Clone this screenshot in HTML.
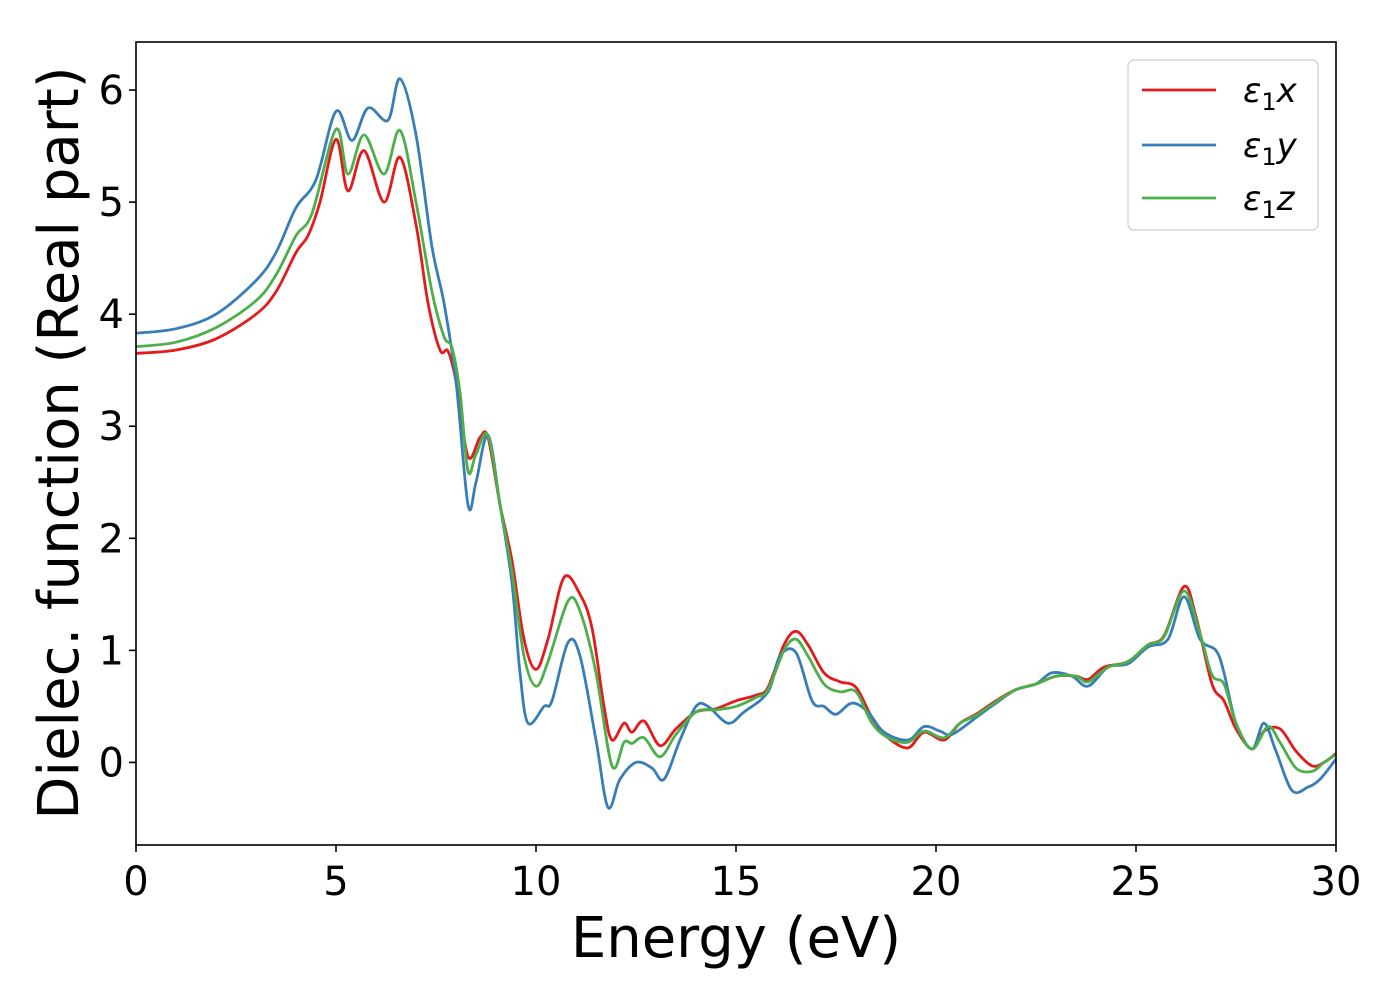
<!DOCTYPE html>
<html><head><meta charset="utf-8"><style>
html,body{margin:0;padding:0;background:#fff;}
svg{display:block;font-family:"DejaVu Sans","Liberation Sans",sans-serif;}
</style></head><body>
<svg id="chart" width="1400" height="1000" viewBox="0 0 1400 1000">
<g id="marks"></g>
<rect x="136" y="42" width="1200" height="803" fill="none" stroke="#000" stroke-width="1.6"/>
<g id="ticks"></g>
<text x="736" y="957" font-size="56" text-anchor="middle">Energy (eV)</text>
<text transform="translate(78,443) rotate(-90)" font-size="56" text-anchor="middle">Dielec. function (Real part)</text>
<g>
<rect x="1128" y="60" width="190" height="170" rx="6" fill="#fff" stroke="#ccc" stroke-width="1.2"/>
<line x1="1142" y1="90" x2="1216" y2="90" stroke="#e41a1c" stroke-width="2.8"/>
<text x="1243" y="102" font-size="34" font-style="italic">ε<tspan font-size="24" font-style="normal" dy="8">1</tspan><tspan dy="-8">x</tspan></text>
<line x1="1142" y1="145" x2="1216" y2="145" stroke="#377eb8" stroke-width="2.8"/>
<text x="1243" y="157" font-size="34" font-style="italic">ε<tspan font-size="24" font-style="normal" dy="8">1</tspan><tspan dy="-8">y</tspan></text>
<line x1="1142" y1="198" x2="1216" y2="198" stroke="#4daf4a" stroke-width="2.8"/>
<text x="1243" y="210" font-size="34" font-style="italic">ε<tspan font-size="24" font-style="normal" dy="8">1</tspan><tspan dy="-8">z</tspan></text>
</g>
</svg>
<script>
const xTicks=[0,5,10,15,20,25,30];
const yTicks=[0,1,2,3,4,5,6];
const xE=[0,1,2,3,3.5,4,4.3,4.6,5.0,5.3,5.7,6.2,6.6,7.0,7.3,7.6,7.8,8.0,8.3,8.6,8.8,9.1,9.4,9.7,10.0,10.3,10.7,11.1,11.4,11.7,11.9,12.2,12.4,12.7,13.1,13.5,14.0,14.5,15.0,15.5,15.8,16.2,16.5,16.8,17.2,17.6,18.0,18.4,18.8,19.3,19.7,20.2,20.6,21.0,21.5,22.0,22.5,23.0,23.5,23.8,24.2,24.8,25.3,25.7,26.2,26.5,26.9,27.2,27.5,27.9,28.2,28.6,29.0,29.4,29.7,30];
const xV=[3.65,3.68,3.78,4.0,4.2,4.55,4.7,5.0,5.56,5.1,5.46,5.0,5.4,4.8,4.1,3.68,3.67,3.4,2.73,2.9,2.9,2.3,1.8,1.1,0.83,1.1,1.65,1.5,1.2,0.5,0.2,0.35,0.27,0.37,0.15,0.3,0.45,0.48,0.55,0.6,0.67,1.05,1.17,1.05,0.8,0.72,0.67,0.4,0.22,0.13,0.27,0.2,0.35,0.43,0.55,0.65,0.7,0.77,0.77,0.74,0.85,0.9,1.05,1.13,1.57,1.3,0.7,0.55,0.3,0.12,0.28,0.3,0.1,-0.03,0.0,0.08];
const yE=[0,1,2,3,3.5,4,4.5,5.0,5.4,5.8,6.3,6.6,7.0,7.4,7.7,8.0,8.3,8.5,8.8,9.1,9.4,9.6,9.8,10.2,10.4,10.8,11.1,11.5,11.8,12.1,12.5,12.9,13.2,13.6,14.0,14.3,14.8,15.2,15.8,16.1,16.5,16.9,17.2,17.5,17.9,18.3,18.7,19.3,19.7,20.1,20.4,21,21.5,22,22.5,22.9,23.4,23.8,24.3,24.8,25.3,25.8,26.2,26.6,27.0,27.2,27.5,27.9,28.2,28.5,28.9,29.3,29.6,30];
const yV=[3.83,3.87,4.0,4.3,4.55,4.95,5.2,5.81,5.55,5.84,5.73,6.1,5.6,4.6,4.1,3.4,2.3,2.5,2.92,2.3,1.6,0.8,0.35,0.5,0.55,1.07,0.95,0.2,-0.4,-0.15,0.0,-0.05,-0.15,0.2,0.5,0.5,0.35,0.45,0.63,0.95,0.98,0.55,0.5,0.43,0.53,0.45,0.27,0.2,0.32,0.28,0.25,0.4,0.53,0.65,0.7,0.8,0.77,0.68,0.85,0.88,1.03,1.1,1.48,1.1,1.0,0.8,0.35,0.12,0.35,0.1,-0.25,-0.22,-0.15,0.03];
const zE=[0,1,2,3,3.5,4,4.4,5.0,5.3,5.7,6.2,6.6,7.0,7.4,7.7,7.9,8.1,8.3,8.5,8.8,9.1,9.4,9.7,10.0,10.3,10.8,11.1,11.5,11.9,12.2,12.4,12.7,13.1,13.5,14.0,14.5,15.0,15.5,15.8,16.2,16.5,16.8,17.2,17.6,18.0,18.4,18.8,19.3,19.7,20.2,20.6,21,21.5,22,22.5,23,23.5,23.8,24.3,24.8,25.3,25.7,26.2,26.6,26.9,27.2,27.5,27.9,28.3,28.6,29.0,29.4,29.7,30];
const zV=[3.71,3.75,3.88,4.12,4.35,4.7,4.9,5.65,5.25,5.6,5.25,5.64,5.0,4.2,3.8,3.7,3.3,2.6,2.75,2.92,2.3,1.7,0.95,0.68,0.9,1.44,1.35,0.8,-0.03,0.18,0.17,0.22,0.05,0.25,0.45,0.47,0.5,0.58,0.65,1.0,1.1,0.95,0.7,0.63,0.63,0.35,0.22,0.18,0.28,0.22,0.35,0.42,0.54,0.65,0.7,0.77,0.77,0.72,0.85,0.9,1.05,1.12,1.53,1.15,0.78,0.7,0.35,0.12,0.32,0.18,-0.05,-0.08,0.0,0.07];

const NS="http://www.w3.org/2000/svg";
const X0=136,X1=1336,Y0=42,Y1=845,XMIN=0,XMAX=30,YMIN=-0.7366,YMAX=6.4286;
function sx(v){return X0+(v-XMIN)/(XMAX-XMIN)*(X1-X0);}
function sy(v){return Y1-(v-YMIN)/(YMAX-YMIN)*(Y1-Y0);}
function pathFor(E,V){
  const p=E.map((e,i)=>[sx(e),sy(V[i])]);
  let d="M"+p[0][0].toFixed(1)+","+p[0][1].toFixed(1);
  for(let i=0;i<p.length-1;i++){
    const a=p[Math.max(0,i-1)],b=p[i],c=p[i+1],q=p[Math.min(p.length-1,i+2)];
    const c1=[b[0]+(c[0]-a[0])/6,b[1]+(c[1]-a[1])/6];
    const c2=[c[0]-(q[0]-b[0])/6,c[1]-(q[1]-b[1])/6];
    d+=" C"+c1[0].toFixed(1)+","+c1[1].toFixed(1)+" "+c2[0].toFixed(1)+","+c2[1].toFixed(1)+" "+c[0].toFixed(1)+","+c[1].toFixed(1);
  }
  return d;
}
const marks=document.getElementById('marks');
[[xE,xV,'#e41a1c','series-eps1x'],[yE,yV,'#377eb8','series-eps1y'],[zE,zV,'#4daf4a','series-eps1z']].forEach(s=>{
  const el=document.createElementNS(NS,'path');
  el.setAttribute('d',pathFor(s[0],s[1]));
  el.setAttribute('fill','none');el.setAttribute('stroke',s[2]);el.setAttribute('stroke-width','2.8');
  el.setAttribute('stroke-linejoin','round');
  
  
  marks.appendChild(el);
});
const ticks=document.getElementById('ticks');
xTicks.forEach(t=>{
  const l=document.createElementNS(NS,'line');
  l.setAttribute('x1',sx(t));l.setAttribute('x2',sx(t));l.setAttribute('y1',Y1);l.setAttribute('y2',Y1+7);l.setAttribute('stroke','#000');l.setAttribute('stroke-width','1.6');
  
  
  ticks.appendChild(l);
  const tx=document.createElementNS(NS,'text');
  tx.setAttribute('x',sx(t));tx.setAttribute('y',Y1+50);tx.setAttribute('font-size','40');tx.setAttribute('text-anchor','middle');
  tx.textContent=t;
  
  
  ticks.appendChild(tx);
});
yTicks.forEach(t=>{
  const l=document.createElementNS(NS,'line');
  l.setAttribute('x1',X0-7);l.setAttribute('x2',X0);l.setAttribute('y1',sy(t));l.setAttribute('y2',sy(t));l.setAttribute('stroke','#000');l.setAttribute('stroke-width','1.6');
  
  
  ticks.appendChild(l);
  const tx=document.createElementNS(NS,'text');
  tx.setAttribute('x',X0-12);tx.setAttribute('y',sy(t)+14);tx.setAttribute('font-size','40');tx.setAttribute('text-anchor','end');
  tx.textContent=t;
  
  
  ticks.appendChild(tx);
});
</script>
</body></html>
